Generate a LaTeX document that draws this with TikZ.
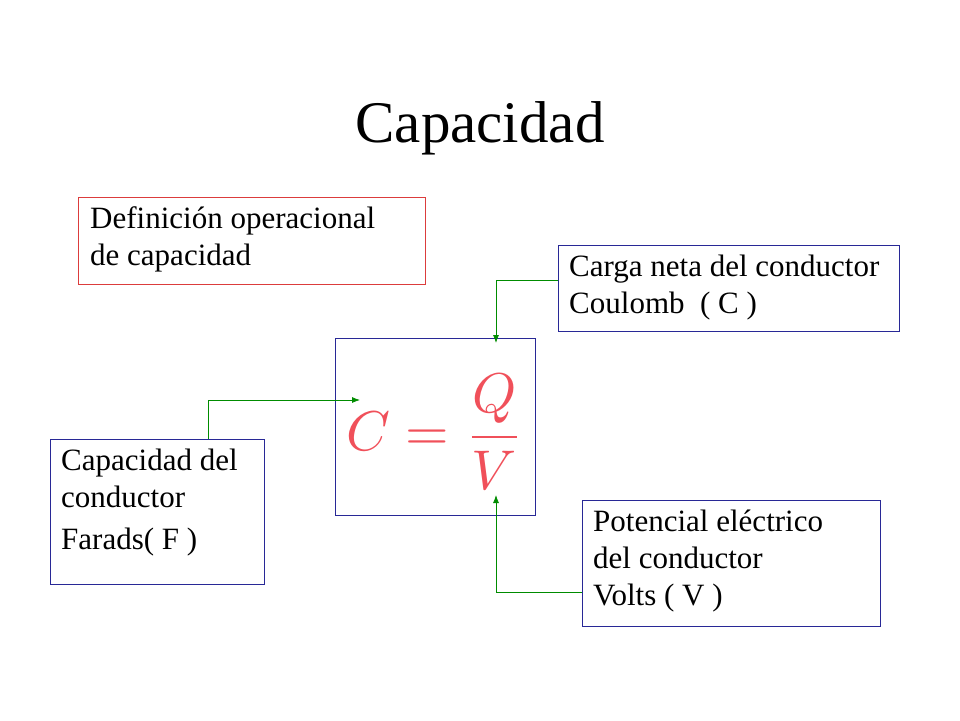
\documentclass[tikz,border=0pt]{standalone}
\usepackage{amsmath}
\usepackage{fontspec}
\setmainfont{Liberation Serif}
\usetikzlibrary{positioning,arrows.meta}
\definecolor{boxblue}{RGB}{40,40,150}
\definecolor{boxred}{RGB}{220,60,60}
\definecolor{eqred}{RGB}{240,80,90}
\definecolor{arrgreen}{RGB}{0,140,0}
\tikzset{
  infotext/.style={anchor=north west,align=left,font=\fontsize{31}{37}\selectfont,inner sep=0pt},
  link/.style={draw=arrgreen,line width=0.8pt,-{Latex[length=8pt,width=6pt]}}
}
\begin{document}
\begin{tikzpicture}[x=1pt,y=-1pt]
\useasboundingbox (0,0) rectangle (960,720);
\node (title) at (480,128) {\fontsize{59}{62}\selectfont Capacidad};

% boxes
\draw[draw=boxred] (78,197) rectangle (425,284);
\node[infotext] (def) at (90,206) {Definición operacional\\de capacidad};

\draw[draw=boxblue] (558,245) rectangle (899,331);
\coordinate (carga) at (558,280);
\node[infotext] (cargatxt) at (569,255) {Carga neta del conductor\\Coulomb\ \ ( C )};

\draw[draw=boxblue] (335,338) rectangle (535,515);
\node[text=eqred] (eq) at (435,432) {\scalebox{5.6}{$C=\dfrac{Q}{V}$}};

\draw[draw=boxblue] (50,439) rectangle (264,584);
\coordinate (cap) at (208,439);
\node[infotext] (captxt) at (61,449) {Capacidad del\\conductor\\[5pt]Farads( F )};

\draw[draw=boxblue] (582,500) rectangle (880,626);
\coordinate (pot) at (582,592);
\node[infotext] (pottxt) at (593,510) {Potencial eléctrico\\del conductor\\Volts ( V )};

% connectors
\coordinate (eqC) at (360,400);
\coordinate (eqQ) at (496,343);
\coordinate (eqV) at (496,495);
\draw[link] (cap) |- (eqC);
\draw[link] (carga) -| (eqQ);
\draw[link] (pot) -| (eqV);
\end{tikzpicture}
\end{document}
